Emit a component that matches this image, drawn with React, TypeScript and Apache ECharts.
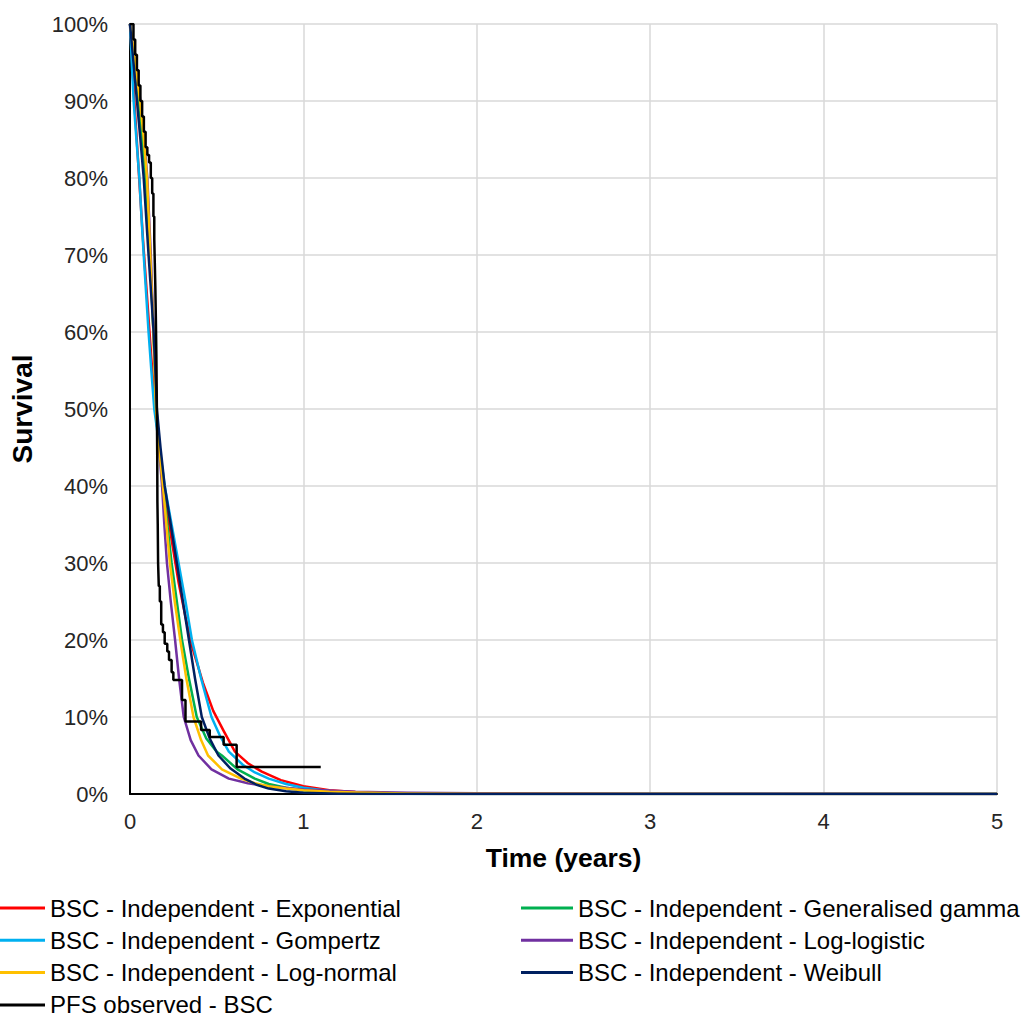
import React, { useEffect, useRef } from "react";
import * as echarts from "echarts";

// Fitted curves: time (years) and survival (%)
const expT = [0, 0.025, 0.05, 0.075, 0.1, 0.125, 0.15, 0.175, 0.2, 0.24, 0.28, 0.32, 0.36, 0.42, 0.48, 0.54, 0.605, 0.68, 0.76, 0.87, 1.0, 1.15, 1.3, 1.5, 1.8, 5];
const expS = [100, 90, 81, 72, 64, 56, 49, 44, 39, 33, 27.5, 23, 19, 14.5, 10.8, 8.2, 5.5, 4, 2.9, 1.8, 1.0, 0.5, 0.25, 0.1, 0, 0];

const ggT = [0, 0.025, 0.05, 0.07, 0.09, 0.103, 0.115, 0.125, 0.135, 0.144, 0.152, 0.17, 0.19, 0.215, 0.24, 0.27, 0.3, 0.34, 0.385, 0.44, 0.5, 0.53, 0.62, 0.72, 0.8, 0.9, 1.0, 1.1, 1.4, 1.7, 5];
const ggS = [100, 95, 90, 85, 80, 75, 70, 65, 60, 55, 50, 45, 40, 35, 30, 25, 20, 15, 10, 7.2, 5.5, 5, 3.2, 2, 1.3, 0.8, 0.5, 0.3, 0.1, 0, 0];

const gompT = [0, 0.01, 0.021, 0.037, 0.054, 0.066, 0.079, 0.093, 0.107, 0.123, 0.14, 0.17, 0.2, 0.24, 0.28, 0.32, 0.357, 0.41, 0.47, 0.52, 0.57, 0.65, 0.72, 0.8, 0.9, 1.0, 1.15, 1.3, 1.6, 2, 5];
const gompS = [100, 95, 90, 85, 80, 75, 70, 65, 60, 55, 50, 45, 40, 35, 30, 25, 20, 15, 10, 7.5, 5.5, 3.8, 2.8, 2, 1.3, 0.8, 0.4, 0.2, 0.05, 0, 0];

const llT = [0, 0.03, 0.06, 0.082, 0.1, 0.11, 0.12, 0.128, 0.137, 0.145, 0.152, 0.167, 0.185, 0.198, 0.213, 0.235, 0.26, 0.283, 0.31, 0.35, 0.395, 0.47, 0.57, 0.68, 0.8, 1.0, 1.3, 1.6, 2, 3, 5];
const llS = [100, 95, 90, 85, 80, 75, 70, 65, 60, 55, 50, 45, 40, 35, 30, 25, 20, 15, 10, 7, 5, 3.2, 2, 1.4, 1, 0.6, 0.3, 0.15, 0.1, 0.04, 0.01];

const lnT = [0, 0.03, 0.058, 0.08, 0.098, 0.108, 0.117, 0.126, 0.135, 0.142, 0.15, 0.168, 0.19, 0.21, 0.23, 0.258, 0.29, 0.325, 0.366, 0.41, 0.45, 0.53, 0.64, 0.72, 0.8, 0.9, 1.0, 1.15, 1.3, 1.6, 2, 5];
const lnS = [100, 95, 90, 85, 80, 75, 70, 65, 60, 55, 50, 45, 40, 35, 30, 25, 20, 15, 10, 7, 5, 3.2, 2, 1.4, 1, 0.7, 0.5, 0.3, 0.2, 0.08, 0.03, 0];

const wbT = [0, 0.02, 0.04, 0.06, 0.079, 0.093, 0.107, 0.122, 0.136, 0.146, 0.155, 0.176, 0.2, 0.235, 0.27, 0.305, 0.34, 0.375, 0.414, 0.46, 0.51, 0.58, 0.66, 0.73, 0.8, 0.9, 1.0, 1.2, 1.4, 5];
const wbS = [100, 95, 90, 85, 80, 75, 70, 65, 60, 55, 50, 45, 40, 35, 30, 25, 20, 15, 10, 7.2, 5, 3.3, 2, 1.2, 0.7, 0.35, 0.15, 0.03, 0, 0];

// Kaplan-Meier observed PFS (step)
const kmT = [0, 0.02, 0.03, 0.04, 0.05, 0.06, 0.07, 0.08, 0.09, 0.1, 0.11, 0.12, 0.128, 0.135, 0.14, 0.143, 0.146, 0.149, 0.152, 0.155, 0.157, 0.158, 0.16, 0.162, 0.166, 0.172, 0.18, 0.19, 0.2, 0.215, 0.225, 0.24, 0.25, 0.3, 0.32, 0.41, 0.46, 0.54, 0.615, 1.1];
const kmS = [100, 98, 96, 94, 92, 90, 88, 86, 84, 83, 82, 80, 78, 75, 72, 69, 66, 62, 57, 50, 44, 38, 35, 30, 27, 25, 22, 21, 19.5, 18.5, 17.4, 15.8, 14.8, 12.2, 9.4, 8.3, 7.4, 6.4, 3.5, 3.5];

const xTicks = [0, 1, 2, 3, 4, 5];

const names = {
  exp: "BSC - Independent - Exponential",
  gg: "BSC - Independent - Generalised gamma",
  gomp: "BSC - Independent - Gompertz",
  ll: "BSC - Independent - Log-logistic",
  ln: "BSC - Independent - Log-normal",
  wb: "BSC - Independent - Weibull",
  km: "PFS observed - BSC",
};

const zip = (t: number[], s: number[]) => t.map((v, i) => [v, s[i]]);

const FONT = "'Liberation Sans', Arial, sans-serif";

export default function App() {
  const ref = useRef<HTMLDivElement>(null);
  useEffect(() => {
    if (!ref.current) return;
    const chart = echarts.init(ref.current, undefined, { renderer: "svg" });
    const line = (name: string, data: number[][], color: string) => ({
      name,
      type: "line",
      data,
      symbol: "none",
      smooth: false,
      lineStyle: { color, width: 2.5, join: "round" },
      itemStyle: { color },
    });
    const legendBase = {
      orient: "vertical",
      top: 896,
      padding: 0,
      itemWidth: 52,
      itemHeight: 3,
      itemGap: 8.3,
      icon: "rect",
      textStyle: { fontSize: 24, lineHeight: 24, fontFamily: FONT, color: "#000" },
    };
    chart.setOption({
      animation: false,
      backgroundColor: "#fff",
      grid: { left: 128, right: 27, top: 24, bottom: 236 },
      xAxis: {
        type: "value",
        min: 0,
        max: 5,
        interval: 1,
        name: "Time (years)",
        nameLocation: "middle",
        nameGap: 50,
        nameTextStyle: { fontSize: 26.5, fontWeight: "bold", fontFamily: FONT, color: "#000" },
        axisLine: { show: true, onZero: false, lineStyle: { color: "#000", width: 2 } },
        axisTick: { show: false },
        axisLabel: {
          fontSize: 22,
          fontFamily: FONT,
          color: "#262626",
          margin: 16,
          formatter: (v: number) => (xTicks.includes(v) ? String(v) : ""),
        },
        splitLine: { show: true, lineStyle: { color: "#d9d9d9", width: 1.5 } },
      },
      yAxis: {
        type: "value",
        min: 0,
        max: 100,
        interval: 10,
        name: "Survival",
        nameLocation: "middle",
        nameGap: 94,
        nameTextStyle: { fontSize: 28, fontWeight: "bold", fontFamily: FONT, color: "#000" },
        axisLine: { show: true, lineStyle: { color: "#000", width: 2 } },
        axisTick: { show: false },
        axisLabel: { fontSize: 22, fontFamily: FONT, color: "#262626", margin: 22, formatter: "{value}%" },
        splitLine: { show: true, lineStyle: { color: "#d9d9d9", width: 1.5 } },
      },
      legend: [
        { ...legendBase, left: -7, data: [names.exp, names.gomp, names.ln, names.km] },
        { ...legendBase, left: 521, data: [names.gg, names.ll, names.wb] },
      ],
      series: [
        line(names.exp, zip(expT, expS), "#ff0000"),
        line(names.gg, zip(ggT, ggS), "#00b050"),
        line(names.gomp, zip(gompT, gompS), "#00b0f0"),
        line(names.ll, zip(llT, llS), "#7030a0"),
        line(names.ln, zip(lnT, lnS), "#ffc000"),
        line(names.wb, zip(wbT, wbS), "#002060"),
        {
          name: names.km,
          type: "line",
          step: "end",
          data: zip(kmT, kmS),
          symbol: "none",
          lineStyle: { color: "#000", width: 2.5 },
          itemStyle: { color: "#000" },
        },
      ],
    });
    return () => chart.dispose();
  }, []);
  return <div ref={ref} style={{ width: 1024, height: 1030, position: "absolute", left: 0, top: 0 }} />;
}
